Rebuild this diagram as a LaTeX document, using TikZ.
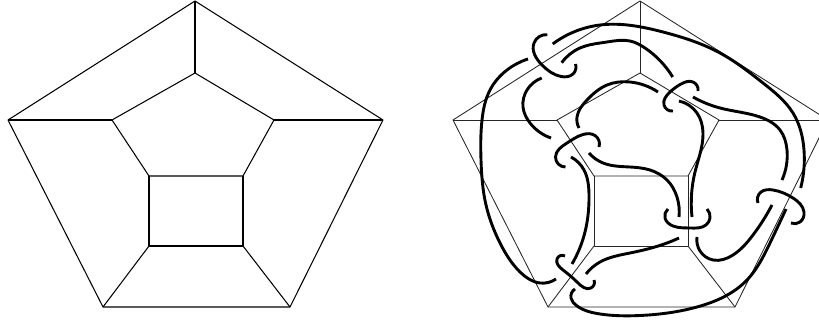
\documentclass[tikz,border=0pt]{standalone}
\usetikzlibrary{hobby}
\tikzset{
  edgeL/.style={line width=1.05pt,black},
  edgeR/.style={line width=0.85pt,black!85},
  strand/.style={line width=2.9pt,black,line cap=butt,line join=round,use Hobby shortcut},
}
\begin{document}
\begin{tikzpicture}[x=1pt,y=-1pt]
\useasboundingbox (0,0) rectangle (819,320);
\clip (0,0) rectangle (819,320);
% left graph and right graph (same shape, shifted)
\foreach \dx/\sty/\p in {0/edgeL/a,445/edgeR/b}{
  \begin{scope}[xshift=\dx pt]
  \coordinate (\p1) at (195,1);
  \coordinate (\p2) at (383,120);
  \coordinate (\p3) at (290,307);
  \coordinate (\p4) at (103,307);
  \coordinate (\p5) at (8,120);
  \coordinate (\p6) at (195,73);
  \coordinate (\p7) at (274,120);
  \coordinate (\p8) at (243,176);
  \coordinate (\p9) at (149,176);
  \coordinate (\p10) at (112,120);
  \coordinate (\p11) at (243,246);
  \coordinate (\p12) at (149,246);
  \draw[\sty,line join=round] (\p1)--(\p2)--(\p3)--(\p4)--(\p5)--cycle;
  \draw[\sty,line join=round] (\p6)--(\p7)--(\p8)--(\p9)--(\p10)--cycle;
  \draw[\sty,line join=round] (\p8)--(\p11)--(\p12)--(\p9);
  \draw[\sty] (\p1)--(\p6);
  \draw[\sty] (\p2)--(\p7);
  \draw[\sty] (\p5)--(\p10);
  \draw[\sty] (\p4)--(\p12);
  \draw[\sty] (\p3)--(\p11);
  \end{scope}
}
% clasps
\draw[strand] (547.3,34.7)..(534,43)..(542,65)..(561,76.5)..(573,74)..(575.5,64);
\draw[strand] (599,147)..(595,135.5)..(583,134.5)..(567,143)..(555.5,157)..(565.5,167);
\draw[strand] (668,209)..(665,218)..(673,226)..(690,228)..(706,225)..(710,218)..(707,209);
\draw[strand] (698,91)..(693,82)..(681,84)..(670,92)..(664,105)..(673,111);
\draw[strand] (758,203)..(761,192)..(773,190)..(793,198)..(804,212)..(800,222)..(791,223);
\draw[strand] (565,256)..(557,259)..(563,270)..(577,282)..(591,288)..(594,280);
% long strands
\draw[strand] (552.7,44)..(600,25)..(663,32)..(720,53)..(763,83)..(793,113)..(804,150)..(800.7,188);
\draw[strand] (561.7,62.7)..(580,48)..(607,42)..(630,41)..(645,48)..(672.7,77);
\draw[strand] (528,59)..(507,70)..(490,90)..(482,120)..(481,160)..(486,205)..(500,243)..(520,272)..(540,283)..(556,279);
\draw[strand] (541.7,78)..(527,90)..(523,107)..(530,123)..(551,138);
\draw[strand] (579,128)..(577,117)..(587,100)..(607,85)..(630,82)..(658,92);
\draw[strand] (571,157)..(584,170)..(589,195)..(585,232)..(572,264);
\draw[strand] (589,153)..(603,163)..(630,167)..(650,170)..(667,180)..(677,197)..(679,217);
\draw[strand] (679,101)..(697,113)..(703,133)..(695,172)..(692,217);
\draw[strand] (693,97)..(720,108)..(760,117)..(780,130)..(787,150)..(782,180);
\draw[strand] (697,237)..(700,251)..(713,260)..(733,255)..(753,235)..(772,205);
\draw[strand] (786,209)..(770,243)..(747,280)..(697,307)..(640,315.5)..(600,314)..(577,306)..(571,298)..(575,289);
\draw[strand] (586,274)..(600,262)..(630,253)..(667,243)..(679,238);
\end{tikzpicture}
\end{document}
